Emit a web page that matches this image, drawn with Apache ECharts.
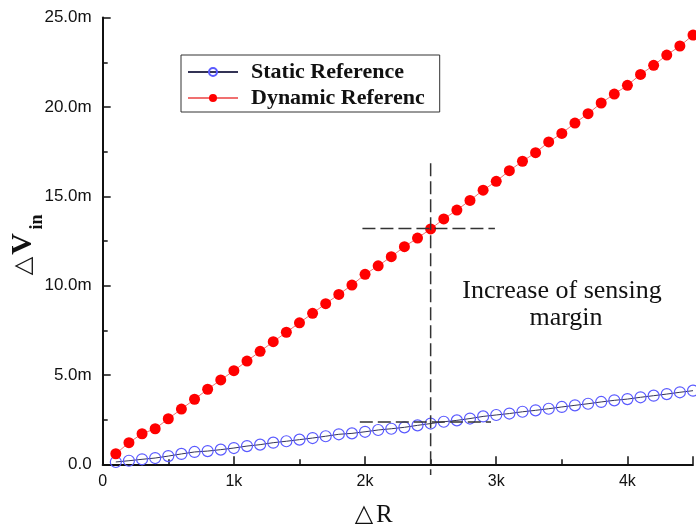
<!DOCTYPE html>
<html>
<head>
<meta charset="utf-8">
<script src="https://cdn.jsdelivr.net/npm/echarts@6/dist/echarts.min.js"></script>
<style>
html,body{margin:0;padding:0;background:#fff;}
#main{width:696px;height:527px;}
</style>
</head>
<body>
<div id="main"></div>
<script>
// delta R in ohm
var resList = [100,200,300,400,500,600,700,800,900,1000,1100,1200,1300,1400,1500,1600,1700,1800,1900,2000,2100,2200,2300,2400,2500,2600,2700,2800,2900,3000,3100,3200,3300,3400,3500,3600,3700,3800,3900,4000,4100,4200,4300,4400,4500];
// delta Vin in mV
var staticRef = [0.13,0.20,0.28,0.35,0.46,0.58,0.69,0.74,0.82,0.91,1.02,1.10,1.21,1.29,1.38,1.47,1.57,1.68,1.73,1.82,1.92,1.99,2.07,2.18,2.28,2.38,2.46,2.56,2.68,2.76,2.84,2.94,3.02,3.11,3.21,3.30,3.39,3.49,3.58,3.65,3.75,3.84,3.93,4.03,4.12];
var dynamicRef = [0.59,1.21,1.71,1.99,2.55,3.09,3.64,4.20,4.72,5.24,5.78,6.32,6.86,7.39,7.92,8.45,8.99,9.51,10.03,10.63,11.11,11.62,12.18,12.66,13.17,13.73,14.23,14.77,15.34,15.84,16.43,16.96,17.44,18.04,18.52,19.10,19.62,20.22,20.72,21.21,21.82,22.33,22.90,23.41,24.02];
var seriesNames = ['Static Reference','Dynamic Referenc'];
// dashed guide lines
var guideV = [[2500,16.85],[2500,-0.6]];
var guideHigh = [[1980,13.2],[2990,13.2]];
var guideLow = [[1960,2.37],[2960,2.37]];
var noteText = ['Increase of sensing','margin'];

function pairs(xs, ys){
	var out = [];
	for(var i = 0;i<xs.length;i++){
		out.push([xs[i], ys[i]]);
	}
	return out;
}

function guide(d){
	return {
		type:'line', data:d, symbol:'none', silent:true, clip:false, z:5,
		lineStyle:{color:'#333', width:1.5, type:[13,5]}
	};
}

var myChart = echarts.init(document.getElementById('main'));
var option = {
	animation:false,
	grid:{left:102.7, top:17.6, width:594, height:446.7},
	legend:{
		data:seriesNames,
		orient:'vertical',
		left:181, top:55,
		borderColor:'#333', borderWidth:1,
		padding:[6,15,3,6],
		itemWidth:50, itemHeight:10, itemGap:4,
		textStyle:{fontFamily:'Liberation Serif', fontWeight:'bold', fontSize:22, color:'#111', lineHeight:22, padding:[0,0,0,8]}
	},
	xAxis:{
		type:'value', min:0, max:4500, interval:1000,
		axisLine:{lineStyle:{color:'#111', width:2}},
		axisTick:{inside:true, length:8, lineStyle:{color:'#111', width:1.5}},
		minorTick:{show:true, splitNumber:2, length:5, lineStyle:{color:'#111', width:1.5}},
		splitLine:{show:false},
		axisLabel:{
			margin:9, fontFamily:'Liberation Sans', fontSize:16, color:'#111',
			formatter:function(v){
				if(v % 1000 !== 0) return '';
				return v === 0 ? '0' : (v/1000)+'k';
			}
		}
	},
	yAxis:{
		type:'value', min:0, max:25, interval:5,
		axisLine:{show:true, lineStyle:{color:'#111', width:2}},
		axisTick:{show:true, inside:true, length:8, lineStyle:{color:'#111', width:1.5}},
		minorTick:{show:true, splitNumber:2, length:5, lineStyle:{color:'#111', width:1.5}},
		splitLine:{show:false},
		axisLabel:{
			margin:11, fontFamily:'Liberation Sans', fontSize:17, color:'#111',
			formatter:function(v){
				return v === 0 ? '0.0' : v.toFixed(1)+'m';
			}
		}
	},
	graphic:[
		{type:'text', x:364, y:515, silent:true, style:{text:'△', fontFamily:'DejaVu Sans', fontSize:24, fill:'#111', align:'center', verticalAlign:'middle'}},
		{type:'text', x:376, y:515, silent:true, style:{text:'R', fontFamily:'Liberation Serif', fontSize:25, fill:'#111', align:'left', verticalAlign:'middle'}},
		{type:'text', x:24, y:266, rotation:Math.PI/2, silent:true, style:{text:'△', fontFamily:'DejaVu Sans', fontSize:24, fill:'#111', align:'center', verticalAlign:'middle'}},
		{type:'text', x:23, y:244, rotation:Math.PI/2, silent:true, style:{text:'V', fontFamily:'Liberation Serif', fontWeight:'bold', fontSize:30, fill:'#111', align:'center', verticalAlign:'middle'}},
		{type:'text', x:37, y:222, rotation:Math.PI/2, silent:true, style:{text:'in', fontFamily:'Liberation Serif', fontWeight:'bold', fontSize:18, fill:'#111', align:'center', verticalAlign:'middle'}},
		{type:'text', x:562, y:291, silent:true, style:{text:noteText[0], fontFamily:'Liberation Serif', fontSize:26, fill:'#111', align:'center', verticalAlign:'middle'}},
		{type:'text', x:566, y:318, silent:true, style:{text:noteText[1], fontFamily:'Liberation Serif', fontSize:26, fill:'#111', align:'center', verticalAlign:'middle'}}
	],
	series:[
		{
			name:seriesNames[0], type:'line', data:pairs(resList, staticRef), z:3,
			symbol:'circle', symbolSize:11,
			lineStyle:{color:'#333355', width:1},
			itemStyle:{color:'rgba(255,255,255,0)', borderColor:'#5a5aff', borderWidth:1.2}
		},
		{
			name:seriesNames[1], type:'line', data:pairs(resList, dynamicRef), z:3,
			symbol:'circle', symbolSize:11,
			lineStyle:{color:'#f07070', width:1},
			itemStyle:{color:'#ff0000'}
		},
		guide(guideV),
		guide(guideHigh),
		guide(guideLow)
	]
};
myChart.setOption(option);
</script>
</body>
</html>
